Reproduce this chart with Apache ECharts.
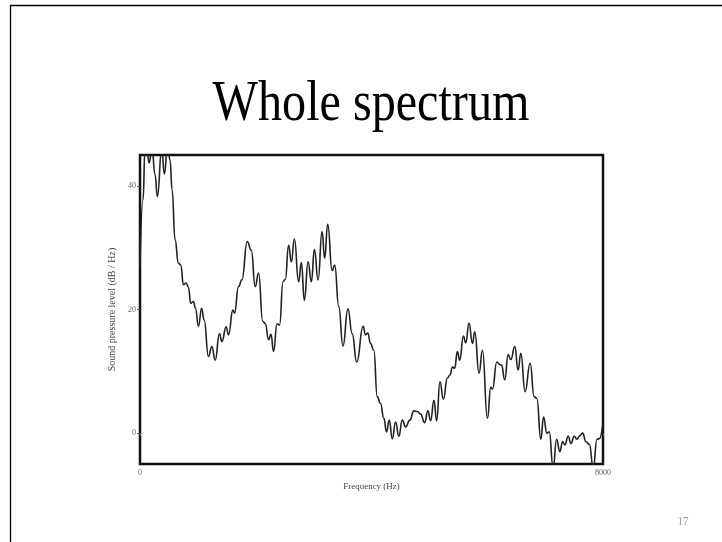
<!DOCTYPE html>
<html>
<head>
<meta charset="utf-8">
<script src="https://cdn.jsdelivr.net/npm/echarts@6/dist/echarts.min.js"></script>
<style>
html,body{margin:0;padding:0;background:#fff;}
#chart{width:722px;height:542px;}
</style>
</head>
<body>
<div id="chart"></div>
<script>
// Frequency (Hz) of traced points
const freqHz = [0,52,87,121,156,208,260,300,376,421,
476,519,554,606,663,705,750,797,836,878,
923,958,1010,1065,1108,1183,1242,1299,1373,1415,
1489,1529,1605,1633,1702,1761,1853,1922,1991,2048,
2121,2165,2222,2263,2308,2367,2412,2471,2511,2568,
2615,2667,2741,2788,2840,2904,2961,3013,3077,3146,
3191,3243,3320,3364,3434,3507,3593,3666,3745,3856,
3896,3936,3983,4040,4099,4156,4213,4260,4307,4359,
4416,4473,4532,4589,4663,4732,4791,4848,4918,4975,
5022,5079,5126,5183,5242,5311,5356,5398,5437,5484,
5524,5588,5628,5685,5744,5784,5858,5917,6003,6061,
6090,6165,6222,6246,6303,6360,6407,6476,6533,6580,
6654,6741,6810,6857,6926,6973,7030,7070,7139,7198,
7255,7302,7342,7399,7446,7503,7550,7589,7648,7706,
7763,7832,7896,7936,7995];
// Sound pressure level (dB/Hz)
const splDb = [26.8,37.7,46,46,43.7,46,41.8,38.3,46,41.9,
46.5,44.2,39.4,31.3,27.5,27.2,24.0,24.3,23.6,21.0,
21.3,20.2,17.3,20.2,18.3,12.4,14.0,11.8,16.1,14.8,
17.2,15.9,19.9,19.4,23.7,24.8,31.0,29.6,23.7,25.9,
18.1,17.7,15.1,16.0,13.2,17.7,17.5,24.5,24.9,30.4,
27.7,31.4,24.5,27.6,21.5,27.7,24.5,29.7,24.8,32.6,
28.3,33.8,26.3,27.2,20.5,14.1,20.1,16.1,11.5,17.3,
15.9,16.2,14.5,13.4,5.9,4.8,2.4,0.2,2.1,-0.9,
1.8,-0.5,2.1,1.0,2.1,3.6,3.5,3.1,1.7,3.6,
2.0,5.3,2.0,8.3,5.5,8.9,9.4,10.7,10.5,13.2,
11.8,15.7,14.6,17.8,14.5,16.4,9.7,13.4,2.4,7.4,
7.1,11.5,11.1,11.0,8.6,12.7,11.9,14.0,10.2,12.9,
6.7,11.3,5.9,5.6,-1.0,2.6,0.0,0.2,-5.6,-1.0,
-3.0,-1.4,-1.9,-0.5,-1.7,-0.5,-1.0,-0.5,0.0,-1.4,
-1.8,-5.6,-1.0,-0.9,1.3];
const yTickValues = [0, 20, 40];
const xTickValues = [0, 8000];
const titleText = 'Whole spectrum';
const xName = 'Frequency (Hz)';
const yName = 'Sound pressure level (dB / Hz)';
const pageNumber = '17';

const data = freqHz.map((f, i) => [f, splDb[i]]);
const chart = echarts.init(document.getElementById('chart'), null, {renderer: 'canvas'});
const serif = '"Liberation Serif", "Times New Roman", serif';
chart.setOption({
  animation: false,
  backgroundColor: '#fff',
  graphic: [
    {type: 'rect', shape: {x: 10.5, y: 5.5, width: 800, height: 700}, style: {fill: 'none', stroke: '#000', lineWidth: 1.3}, silent: true},
    {type: 'text', x: 371, y: 134, scaleX: 0.83, style: {text: titleText, font: '58px ' + serif, fill: '#000', textAlign: 'center', textVerticalAlign: 'bottom'}},
    {type: 'text', x: 683, y: 522, scaleX: 0.86, style: {text: pageNumber, font: '13px ' + serif, fill: '#999', textAlign: 'center', textVerticalAlign: 'middle'}}
  ],
  grid: {left: 140, top: 155, right: 119, bottom: 78, show: true, borderColor: '#111', borderWidth: 2.5, backgroundColor: 'transparent'},
  xAxis: {
    type: 'value', min: 0, max: 8000,
    name: xName, nameLocation: 'middle', nameGap: 14,
    nameTextStyle: {fontFamily: serif, fontSize: 9, color: '#444'},
    axisLine: {show: false},
    splitLine: {show: false},
    axisTick: {show: true, customValues: xTickValues, length: 3, lineStyle: {color: '#555', width: 1}},
    axisLabel: {customValues: xTickValues, formatter: (v) => String(v), fontFamily: serif, fontSize: 8, color: '#666', margin: 5}
  },
  yAxis: {
    type: 'value', min: -5, max: 45,
    name: yName, nameLocation: 'middle', nameGap: 23,
    nameTextStyle: {fontFamily: serif, fontSize: 10, color: '#444'},
    axisLine: {show: false},
    splitLine: {show: false},
    axisTick: {show: true, customValues: yTickValues, length: 3, lineStyle: {color: '#555', width: 1}},
    axisLabel: {customValues: yTickValues, formatter: (v) => String(v), fontFamily: serif, fontSize: 8, color: '#666', margin: 4}
  },
  series: [{
    type: 'line', data: data, smooth: 0.5, smoothMonotone: 'x', showSymbol: false, clip: true,
    lineStyle: {color: '#222', width: 1.6}
  }]
});
</script>
</body>
</html>
